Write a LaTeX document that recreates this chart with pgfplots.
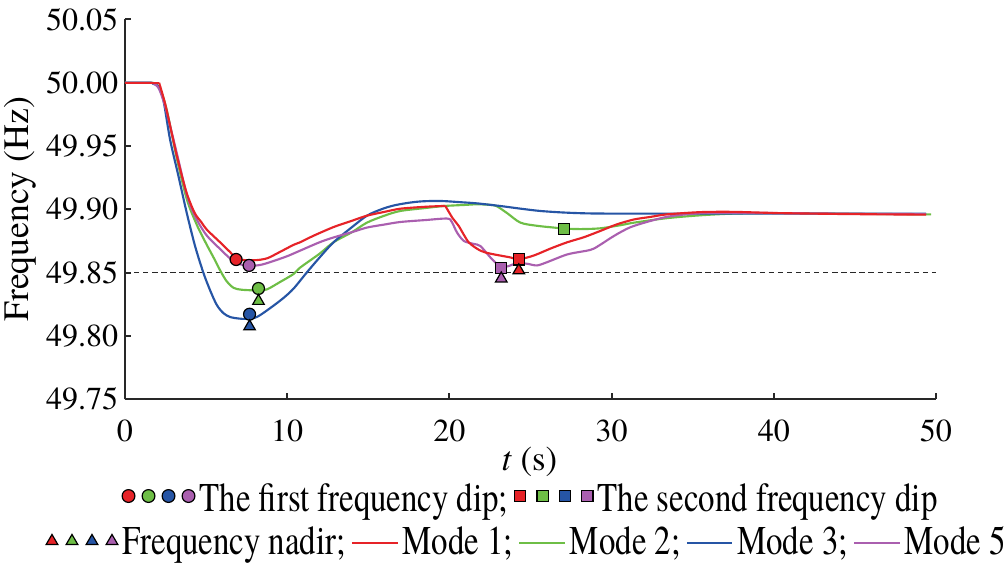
\documentclass[border=0pt]{standalone}
\usepackage{graphicx}
\usepackage{pgfplots}
\pgfplotsset{compat=1.18}
\usepackage{pgfplotstable}
\usepackage{fontspec}
\IfFontExistsTF{texgyretermes-regular.otf}{%
  \setmainfont{texgyretermes}[Extension=.otf, UprightFont=*-regular, ItalicFont=*-italic, BoldFont=*-bold, BoldItalicFont=*-bolditalic]%
}{%
  \setmainfont{Liberation Serif}%
}
\newcommand\leg[1]{\scalebox{0.805}[1]{#1}}
\definecolor{cR}{RGB}{230,35,40}
\definecolor{cG}{RGB}{110,190,70}
\definecolor{cB}{RGB}{38,85,165}
\definecolor{cP}{RGB}{170,95,175}
\definecolor{axc}{RGB}{40,40,40}

\pgfplotstableread{
t f
0 50.000
1.0 50.000
2.1 50.000
2.5 49.982
3.2 49.942
3.8 49.913
4.3 49.897
4.7 49.890
5.04 49.884
5.86 49.874
6.5 49.866
6.9 49.861
7.5 49.8598
8.2 49.8600
8.8 49.8615
9.5 49.866
10.4 49.872
10.8 49.874
11.6 49.879
12.86 49.886
14.0 49.891
14.92 49.895
16.0 49.898
16.98 49.9005
18.5 49.902
19.75 49.9027
20.2 49.893
20.57 49.887
21.19 49.874
21.91 49.8674
22.53 49.865
23.77 49.862
24.28 49.8605
25.2 49.8635
26.23 49.869
27.27 49.874
28.3 49.878
29.32 49.883
30.3 49.888
31.38 49.892
32.4 49.894
33.4 49.896
35.5 49.8978
37.5 49.898
40.4 49.897
45.0 49.8962
49.4 49.8958
}\modeone

\pgfplotstableread{
t f
0 50
1.5 50
1.9 49.999
2.2 49.994
2.6 49.977
3.2 49.940
3.81 49.908
4.42 49.888
5.0 49.873
5.5 49.861
5.9 49.851
6.28 49.843
6.7 49.838
7.2 49.8365
8.2 49.836
8.75 49.8368
9.57 49.8427
10.4 49.849
10.8 49.854
12.0 49.865
12.86 49.874
14.0 49.882
14.92 49.8895
16.0 49.895
16.98 49.8987
18.5 49.901
19.65 49.9026
21.0 49.9035
21.7 49.904
22.5 49.9035
22.9 49.9026
23.56 49.897
24.38 49.8895
25.4 49.887
26.44 49.8856
27.05 49.8848
28.1 49.8844
29.3 49.885
30.56 49.8875
31.4 49.8895
33.4 49.893
35.5 49.8953
37.55 49.8966
40.4 49.897
45.0 49.8965
49.7 49.896
}\modetwo

\pgfplotstableread{
t f
0 50
1.5 50
1.75 49.999
2.05 49.997
2.37 49.986
2.78 49.955
3.3 49.926
3.81 49.897
4.32 49.871
4.83 49.850
5.25 49.836
5.66 49.8245
6.07 49.818
6.48 49.815
7.0 49.8138
7.51 49.8135
8.13 49.815
8.95 49.822
9.77 49.830
10.4 49.8375
11.2 49.850
12.0 49.862
12.86 49.874
14.0 49.886
14.92 49.895
15.8 49.900
16.56 49.903
17.4 49.905
18.2 49.9062
19.0 49.9066
19.65 49.9065
20.6 49.9057
21.7 49.9047
23.15 49.9026
24.4 49.9005
25.6 49.8987
27.0 49.8975
28.5 49.8968
30.5 49.8966
35.0 49.8966
40.0 49.8966
45.0 49.8966
49.4 49.8966
}\modethree

\pgfplotstableread{
t f
0 50
1.5 50
1.8 49.999
2.1 49.995
2.5 49.980
3.2 49.944
3.8 49.912
4.3 49.895
5.0 49.880
5.86 49.8687
6.5 49.861
7.0 49.857
7.65 49.8555
8.3 49.856
8.95 49.8583
10.0 49.863
10.8 49.8674
12.0 49.874
12.86 49.8778
14.0 49.882
14.92 49.8856
16.0 49.888
16.98 49.890
18.5 49.8915
19.86 49.8927
20.15 49.890
20.47 49.8817
20.9 49.875
21.5 49.8727
21.91 49.871
22.53 49.862
23.0 49.856
23.2 49.8545
23.6 49.855
24.18 49.8575
24.8 49.857
25.4 49.8557
26.03 49.8583
27.3 49.8645
28.7 49.868
29.3 49.872
29.9 49.877
30.56 49.882
31.4 49.887
33.4 49.894
35.5 49.897
37.55 49.8972
40.4 49.897
45.0 49.8965
49.4 49.8962
}\modefive

\pgfplotsset{
  circfour/.style={legend image code/.code={
    \path (0pt,-4.8pt) (0pt,4.8pt);
    \foreach \c [count=\i from 0] in {cR,cG,cB,cP} {
      \begin{scope}[xshift=\i*7.5pt]
      \filldraw[fill=\c,draw=black,line width=0.45pt] (2.4pt,1.5pt) circle[radius=2.4pt];
      \end{scope}
    }}},
  sqfour/.style={legend image code/.code={
    \path (0pt,-4.8pt) (0pt,4.8pt);
    \foreach \c [count=\i from 0] in {cR,cG,cB,cP} {
      \begin{scope}[xshift=\i*8.4pt]
      \filldraw[fill=\c,draw=black,line width=0.45pt] (0.3pt,-0.7pt) rectangle (4.5pt,3.5pt);
      \end{scope}
    }}},
  trifour/.style={legend image code/.code={
    \path (0pt,-4.8pt) (0pt,4.8pt);
    \foreach \c [count=\i from 0] in {cR,cG,cB,cP} {
      \begin{scope}[xshift=\i*7.5pt]
      \filldraw[fill=\c,draw=black,line width=0.45pt] (0.2pt,-0.6pt) -- (4.6pt,-0.6pt) -- (2.4pt,3.2pt) -- cycle;
      \end{scope}
    }}},
}

\begin{document}
\begin{tikzpicture}
\useasboundingbox (-46.875pt,-62.14pt) rectangle (330.75pt,149.74pt);
\begin{axis}[
  at={(0pt,0pt)}, anchor=south west,
  scale only axis, width=304.1pt, height=142.5pt,
  xmin=0, xmax=50, ymin=49.75, ymax=50.05,
  axis x line*=bottom, axis y line*=left,
  axis line style={axc, line width=0.75pt, -},
  tick style={axc, line width=0.75pt},
  tick align=inside, major tick length=2.2pt,
  xtick={0,10,20,30,40,50},
  ytick={49.75,49.8,49.85,49.9,49.95,50,50.05},
  minor tick num=0,
  /pgf/number format/assume math mode=true,
  ticklabel style={font=\fontsize{12}{14}\selectfont},
  xticklabel style={yshift=-4.2pt},
  yticklabel style={xshift=1pt, /pgf/number format/.cd,fixed,fixed zerofill,precision=2},
  xlabel={\textit{t} (s)},
  ylabel={Frequency (Hz)},
  every axis x label/.style={at={(axis description cs:0.4988,-0.1658)}, anchor=center, font=\fontsize{13}{15}\selectfont},
  every axis y label/.style={at={(axis description cs:-0.1295,0.5)}, rotate=90, anchor=center, font=\fontsize{13.4}{16}\selectfont},
  clip=false,
  legend columns=2,
  legend cell align=left,
  legend style={at={(axis description cs:0.4988,-0.265)}, anchor=center, draw=none, fill=none, inner sep=0pt,
    font=\fontsize{15.3}{18}\selectfont,
    nodes={inner sep=0pt},
    /tikz/every odd column/.append style={column sep=1.5pt},
    /tikz/every even column/.append style={column sep=2pt}},
]
\addplot[axc, line width=0.55pt, dash pattern=on 2pt off 1.4pt, forget plot] coordinates {(0,49.85) (50,49.85)};
\addplot[cG, line width=0.8pt, smooth, tension=0.5, forget plot] table[x=t,y=f] {\modetwo};
\addplot[cB, line width=0.8pt, smooth, tension=0.5, forget plot] table[x=t,y=f] {\modethree};
\addplot[cP, line width=0.8pt, smooth, tension=0.5, forget plot] table[x=t,y=f] {\modefive};
\addplot[cR, line width=0.8pt, forget plot, restrict x to domain=0:2.1] table[x=t,y=f] {\modeone};
\addplot[cR, line width=0.8pt, smooth, tension=0.45, forget plot, restrict x to domain=2.1:19.75] table[x=t,y=f] {\modeone};
\addplot[cR, line width=0.8pt, smooth, tension=0.45, forget plot, restrict x to domain=19.75:50] table[x=t,y=f] {\modeone};
% first dips (circles)
\addplot[only marks, mark=*, mark size=2.25pt, mark options={fill=cR, draw=black, line width=0.45pt}, forget plot] coordinates {(6.85,49.8604)};
\addplot[only marks, mark=*, mark size=2.25pt, mark options={fill=cG, draw=black, line width=0.45pt}, forget plot] coordinates {(8.23,49.8375)};
\addplot[only marks, mark=*, mark size=2.25pt, mark options={fill=cB, draw=black, line width=0.45pt}, forget plot] coordinates {(7.68,49.8172)};
\addplot[only marks, mark=*, mark size=2.25pt, mark options={fill=cP, draw=black, line width=0.45pt}, forget plot] coordinates {(7.65,49.8557)};
% second dips (squares)
\addplot[only marks, mark=square*, mark size=2.1pt, mark options={fill=cR, draw=black, line width=0.45pt}, forget plot] coordinates {(24.28,49.8604)};
\addplot[only marks, mark=square*, mark size=2.1pt, mark options={fill=cG, draw=black, line width=0.45pt}, forget plot] coordinates {(27.05,49.8844)};
\addplot[only marks, mark=square*, mark size=2.1pt, mark options={fill=cP, draw=black, line width=0.45pt}, forget plot] coordinates {(23.2,49.8539)};
% nadirs (triangles)
\addplot[only marks, mark=triangle*, mark size=2.5pt, mark options={fill=cG, draw=black, line width=0.45pt}, forget plot] coordinates {(8.23,49.8276)};
\addplot[only marks, mark=triangle*, mark size=2.5pt, mark options={fill=cB, draw=black, line width=0.45pt}, forget plot] coordinates {(7.68,49.8075)};
\addplot[only marks, mark=triangle*, mark size=2.5pt, mark options={fill=cP, draw=black, line width=0.45pt}, forget plot] coordinates {(23.2,49.8453)};
\addplot[only marks, mark=triangle*, mark size=2.5pt, mark options={fill=cR, draw=black, line width=0.45pt}, forget plot] coordinates {(24.28,49.8518)};
\addlegendimage{circfour}
\addlegendentry{\leg{The first frequency dip;}}
\addlegendimage{sqfour}
\addlegendentry{\leg{The second frequency dip}}
\end{axis}
\begin{axis}[
  at={(0pt,0pt)}, anchor=south west,
  scale only axis, width=304.1pt, height=142.5pt,
  xmin=0, xmax=1, ymin=0, ymax=1, hide axis,
  legend columns=5,
  legend cell align=left,
  legend style={at={(axis description cs:0.4939,-0.378)}, anchor=center, draw=none, fill=none, inner sep=0pt,
    font=\fontsize{15.3}{18}\selectfont,
    nodes={inner sep=0pt},
    /tikz/every odd column/.append style={column sep=1.5pt},
    /tikz/every even column/.append style={column sep=2pt}},
]
\addplot[draw=none, forget plot] coordinates {(0,0)};
\addlegendimage{trifour}
\addlegendentry{\leg{Frequency nadir;}}
\addlegendimage{cR, line width=0.8pt}
\addlegendentry{\leg{Mode 1;}}
\addlegendimage{cG, line width=0.8pt}
\addlegendentry{\leg{Mode 2;}}
\addlegendimage{cB, line width=0.8pt}
\addlegendentry{\leg{Mode 3;}}
\addlegendimage{cP, line width=0.8pt}
\addlegendentry{\leg{Mode 5}}
\end{axis}
\end{tikzpicture}
\end{document}
